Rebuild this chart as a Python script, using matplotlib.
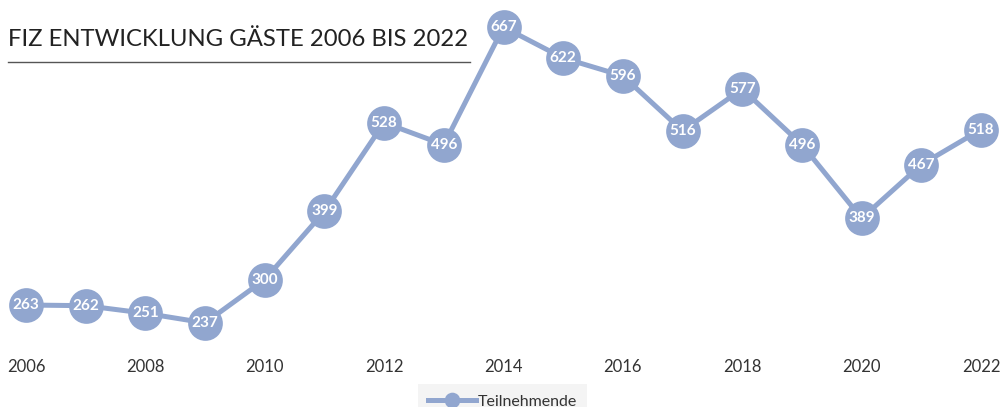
import matplotlib.pyplot as plt

jahre = list(range(2006, 2023))
teilnehmende = [263, 262, 251, 237, 300, 399, 528, 496, 667, 622, 596, 516, 577, 496, 389, 467, 518]
xticks = list(range(2006, 2023, 2))

farbe = '#91a6cf'
plt.rcParams['font.family'] = ['Lato', 'DejaVu Sans']

fig = plt.figure(figsize=(10.05, 4.07), dpi=100)
ax = fig.add_axes([26 / 1005, 1 - 335 / 407, (981 - 26) / 1005, (335 - 10) / 407])

ax.plot(jahre, teilnehmende, color=farbe, lw=3.6, marker='o', ms=25,
        mfc=farbe, mec=farbe, mew=0, clip_on=False, label='Teilnehmende', zorder=3)
for x, y in zip(jahre, teilnehmende):
    ax.text(x, y, str(y), ha='center', va='center', color='white',
            fontsize=11, fontweight='bold', zorder=4)

ax.set_xlim(2006, 2022)
ax.set_ylim(219.4, 691.8)
ax.set_xticks(xticks)
ax.set_xticklabels([str(j) for j in xticks], fontsize=12, color='#333333')
ax.tick_params(axis='x', length=0, pad=17)
ax.set_yticks([])
for s in ax.spines.values():
    s.set_visible(False)

fig.text(8 / 1005, 1 - 40 / 407, 'FIZ ENTWICKLUNG GÄSTE 2006 BIS 2022',
         fontsize=17.2, color='#222222', va='center', ha='left')
fig.add_artist(plt.Line2D([8 / 1005, 470 / 1005], [1 - 62 / 407] * 2,
                          color='#555555', lw=1))

leg = fig.legend(loc='upper center', bbox_to_anchor=(0.5, 1 - 381 / 407),
                 frameon=True, fontsize=11.5, markerscale=0.45, handlelength=3,
                 borderpad=0.35, handletextpad=0.1)
leg.get_frame().set_facecolor('#f2f2f2')
leg.get_frame().set_edgecolor('none')
leg.get_frame().set_boxstyle('square')
for t in leg.get_texts():
    t.set_color('#333333')

fig.savefig('out.png', dpi=100)
